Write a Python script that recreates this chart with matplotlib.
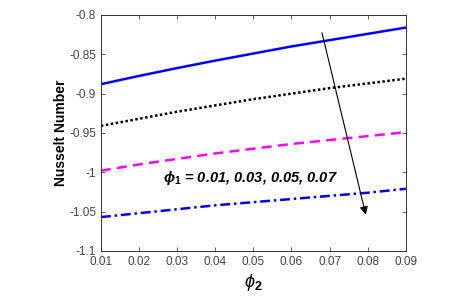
import numpy as np
import matplotlib.pyplot as plt
from matplotlib.ticker import FuncFormatter

phi2 = [0.01, 0.02, 0.03, 0.04, 0.05, 0.06, 0.07, 0.08, 0.09]
nu_001 = [-0.888, -0.8775, -0.8675, -0.858, -0.849, -0.840, -0.832, -0.824, -0.816]
nu_003 = [-0.941, -0.932, -0.923, -0.915, -0.907, -0.900, -0.893, -0.887, -0.881]
nu_005 = [-0.998, -0.990, -0.983, -0.976, -0.970, -0.964, -0.959, -0.954, -0.949]
nu_007 = [-1.057, -1.052, -1.047, -1.042, -1.038, -1.034, -1.030, -1.026, -1.021]

xticks = [0.01, 0.02, 0.03, 0.04, 0.05, 0.06, 0.07, 0.08, 0.09]
yticks = [-1.1, -1.05, -1.0, -0.95, -0.9, -0.85, -0.8]

plt.rcParams['font.family'] = ['Liberation Sans', 'DejaVu Sans']
plt.rcParams['mathtext.fontset'] = 'custom'
plt.rcParams['mathtext.rm'] = 'Liberation Sans'
plt.rcParams['mathtext.it'] = 'Liberation Sans:italic'
plt.rcParams['mathtext.bf'] = 'Liberation Sans:bold'
plt.rcParams['mathtext.bfit'] = 'Liberation Sans:bold:italic'

fig = plt.figure(figsize=(4.67, 3.06), dpi=100)
ax = fig.add_axes([0.216, 0.180, 0.653, 0.771])

ax.plot(phi2, nu_001, color='#0000ff', lw=1.8, ls='-')
ax.plot(phi2, nu_003, color='black', lw=1.8, ls=(0, (1, 1)))
ax.plot(phi2, nu_005, color='#ff00ff', lw=1.8, ls=(0, (4, 2.5)))
ax.plot(phi2, nu_007, color='#0000ff', lw=1.8, ls=(0, (4, 1.5, 1, 1.5)))

# arrow showing increase of phi_1
ax.annotate('', xy=(0.0795, -1.054), xytext=(0.068, -0.8225),
            arrowprops=dict(arrowstyle='-|>', color='black', lw=0.8,
                            mutation_scale=12, shrinkA=0, shrinkB=0))
ax.text(0.0263, -1.0068, r'$\mathbfit{\phi}_{\mathbf{1}}$ = 0.01, 0.03, 0.05, 0.07',
        fontsize=10.5, fontweight='bold', fontstyle='italic', va='center', ha='left')

ax.set_xlim(0.01, 0.09)
ax.set_ylim(-1.1, -0.8)
ax.set_xticks(xticks)
ax.set_yticks(yticks)
ax.xaxis.set_major_formatter(FuncFormatter(lambda v, p: '%g' % v))
ax.yaxis.set_major_formatter(FuncFormatter(lambda v, p: '%g' % v))
ax.tick_params(direction='in', length=3, width=0.6, top=True, right=True,
               labelsize=8.5, labelcolor='#444444', color='#444444')
for s in ax.spines.values():
    s.set_linewidth(0.7)
    s.set_color('#333333')

ax.set_ylabel('Nusselt Number', fontsize=10, fontweight='bold', labelpad=1)
ax.set_xlabel(r'$\mathit{\phi}_{\mathbf{2}}$', fontsize=13, labelpad=3)

plt.savefig('out.png', dpi=100)
